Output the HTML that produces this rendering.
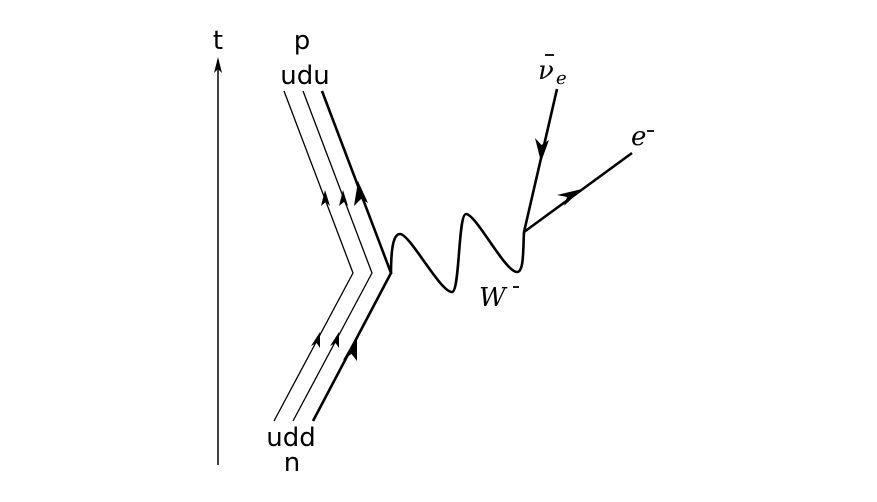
<!DOCTYPE html>
<html><head><style>body{margin:0;background:#fff}</style></head><body>
<svg width="877" height="497" viewBox="0 0 877 497" xmlns="http://www.w3.org/2000/svg">
<g fill="none" stroke="#000" stroke-linecap="butt">
<line x1="218" y1="465" x2="218" y2="60" stroke-width="1.5"/>
<path d="M218,57 L214,73 L218,69 L222,73 Z" fill="#000" stroke="none"/>
<polyline points="274,421 353,273 284,91" stroke-width="1.3"/>
<polyline points="293,421 372,273 303,91" stroke-width="1.3"/>
<polyline points="313,421 391,273 322,91" stroke-width="2.6"/>
</g>
<g fill="#000">
<path d="M320,332 L311,346 L316.5,343 L320,348 Z"/>
<path d="M339,332 L330,346 L335.5,343 L339,348 Z"/>
<path d="M357,336 L343,360 L351.5,354 L357,361 Z"/>
<path d="M325,190 L321,206 L325.8,202 L330,206 Z"/>
<path d="M343,190 L339,206 L343.8,202 L348,206 Z"/>
<path d="M358,181 L354,206 L361,199 L368,203 Z"/>
<path d="M541,162 L535,138 L541.5,145 L549,140 Z"/>
<path d="M582,189 L557,195 L567,197 L564,206 Z"/>
</g>
<g fill="none" stroke="#000" stroke-width="2.6">
<path d="M391,274 C391,250 393,234 400,234 C410,234 440,292 452,292 C460,292 458,214 466,214 C476,214 505,272 517,272 C524,272 523,250 524,232"/>
<line x1="524" y1="232" x2="557" y2="89"/>
<line x1="524" y1="232" x2="632" y2="153"/>
</g>
<g font-family="'DejaVu Sans','Liberation Sans',sans-serif" font-size="26" text-anchor="middle" fill="#000">
<text x="218" y="49">t</text>
<text x="302" y="49">p</text>
<text x="305" y="84">udu</text>
<text x="291" y="446">udd</text>
<text x="292" y="471">n</text>
</g>
<g font-family="'DejaVu Serif','Liberation Serif',serif" font-style="italic" fill="#000">
<text x="479" y="306" font-size="26">W</text>
<line x1="513" y1="287" x2="519" y2="287" stroke="#000" stroke-width="1.8"/>
<text x="631" y="145" font-size="26">e</text>
<line x1="647" y1="131" x2="654" y2="131" stroke="#000" stroke-width="1.8"/>
<text x="538" y="79" font-size="26">ν</text><text x="556" y="84" font-size="18">e</text>
<line x1="545" y1="55" x2="554" y2="55" stroke="#000" stroke-width="1.8"/>
</g>
</svg>
</body></html>
